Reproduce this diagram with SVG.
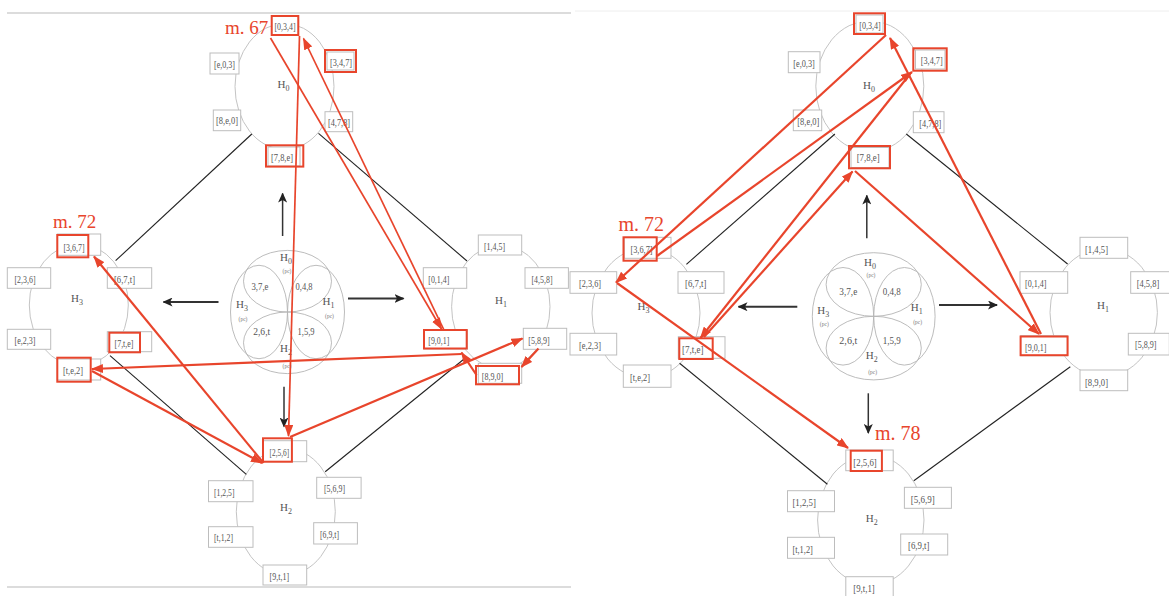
<svg xmlns="http://www.w3.org/2000/svg" width="1169" height="596" viewBox="0 0 1169 596">
<defs>
<marker id="rh" markerUnits="userSpaceOnUse" markerWidth="12" markerHeight="9" refX="11" refY="4.5" orient="auto"><path d="M0,0 L12,4.5 L0,9 z" fill="#e8452c"/></marker>
<marker id="bh" markerUnits="userSpaceOnUse" markerWidth="10" markerHeight="9" refX="9" refY="4.5" orient="auto"><path d="M0,0 L10,4.5 L0,9 L2.5,4.5 z" fill="#222"/></marker>
<style>
.bx{fill:#fff;stroke:#bdbdbd;stroke-width:1}
.rb{fill:none;stroke:#e8452c;stroke-width:2}
.lb{font-family:"Liberation Serif",serif;font-size:11px;fill:#555}
.hl{font-family:"Liberation Serif",serif;font-size:11px;fill:#555;text-anchor:middle}
.pc{font-family:"Liberation Serif",serif;font-size:5.5px;fill:#777;text-anchor:middle}
.el{fill:none;stroke:#c4c4c4;stroke-width:1}
.vn{fill:none;stroke:#b4b4b4;stroke-width:0.9}
.bk{stroke:#222;stroke-width:1.1;fill:none}
.ar{stroke:#333;stroke-width:2;fill:none;marker-end:url(#bh)}
.rl{stroke:#e8452c;stroke-width:2.2;fill:none;marker-end:url(#rh)}
.rt{stroke:#e8452c;stroke-width:1.7;fill:none;marker-end:url(#rh)}
.mt{font-family:"Liberation Serif",serif;font-size:19px;fill:#e8452c}
.fr{stroke:#dcdcdc;stroke-width:2;fill:none}
</style>
</defs>
<rect x="0" y="0" width="1169" height="596" fill="#fff"/>
<g id="frames">
<line class="fr" x1="7" y1="13" x2="571" y2="13"/>
<line class="fr" x1="7" y1="587" x2="571" y2="587"/>
<line x1="575" y1="11" x2="1169" y2="11" stroke="#eeeeee" stroke-width="1"/>
</g>

<!-- LEFT PANEL -->
<g id="L-H0">
<ellipse class="el" cx="284.5" cy="86.5" rx="49.5" ry="63"/>
<rect class="bx" x="271.7" y="16" width="26.6" height="19"/><text class="lb" x="274.5" y="30" textLength="21" lengthAdjust="spacingAndGlyphs">[0,3,4]</text>
<rect class="bx" x="210" y="53" width="29" height="21"/><text class="lb" x="214" y="67.5" textLength="21" lengthAdjust="spacingAndGlyphs">[e,0,3]</text>
<rect class="bx" x="327" y="52" width="27" height="18"/><text class="lb" x="330" y="65.5" textLength="22" lengthAdjust="spacingAndGlyphs">[3,4,7]</text>
<text class="lb" x="277.5" y="88">H<tspan font-size="8" dy="3">0</tspan></text>
<rect class="bx" x="213.3" y="110" width="27.4" height="20.7"/><text class="lb" x="216" y="124" textLength="22" lengthAdjust="spacingAndGlyphs">[8,e,0]</text>
<rect class="bx" x="325" y="111.7" width="27.7" height="20"/><text class="lb" x="328" y="125.5" textLength="22" lengthAdjust="spacingAndGlyphs">[4,7,8]</text>
<rect class="bx" x="268" y="147" width="32" height="19"/><text class="lb" x="271" y="160.5" textLength="22" lengthAdjust="spacingAndGlyphs">[7,8,e]</text>
<rect class="rb" x="271.7" y="16" width="26.6" height="19"/>
<rect class="rb" x="325" y="50" width="31" height="22"/>
<rect class="rb" x="266" y="145.3" width="37.3" height="21.3"/>
</g>
<g id="L-H3">
<ellipse class="el" cx="78.8" cy="305" rx="49.5" ry="61"/>
<rect class="bx" x="57.3" y="234" width="43.4" height="21.3"/><text class="lb" x="63.5" y="251" textLength="21" lengthAdjust="spacingAndGlyphs">[3,6,7]</text>
<rect class="bx" x="7.3" y="267.7" width="43.4" height="20.6"/><text class="lb" x="14.5" y="283" textLength="21" lengthAdjust="spacingAndGlyphs">[2,3,6]</text>
<rect class="bx" x="107.3" y="267.7" width="44.4" height="20.6"/><text class="lb" x="114" y="283" textLength="21" lengthAdjust="spacingAndGlyphs">[6,7,t]</text>
<text class="lb" x="71" y="302">H<tspan font-size="8" dy="3">3</tspan></text>
<rect class="bx" x="7.3" y="329.3" width="43.4" height="20"/><text class="lb" x="14.5" y="344" textLength="21" lengthAdjust="spacingAndGlyphs">[e,2,3]</text>
<rect class="bx" x="107.3" y="331.7" width="44.4" height="20"/><text class="lb" x="114.5" y="346.5" textLength="19" lengthAdjust="spacingAndGlyphs">[7,t,e]</text>
<rect class="bx" x="57.3" y="359" width="43.4" height="21"/><text class="lb" x="63" y="374" textLength="20" lengthAdjust="spacingAndGlyphs">[t,e,2]</text>
<rect class="rb" x="57.3" y="235" width="31" height="22.3"/>
<rect class="rb" x="109.3" y="332.7" width="30.7" height="19.6"/>
<rect class="rb" x="57.3" y="357.7" width="33.4" height="24"/>
</g>
<g id="L-H1">
<ellipse class="el" cx="500.8" cy="306.7" rx="49.2" ry="61.7"/>
<rect class="bx" x="478.3" y="235" width="43.4" height="20"/><text class="lb" x="484" y="249.5" textLength="21" lengthAdjust="spacingAndGlyphs">[1,4,5]</text>
<rect class="bx" x="423.3" y="267.7" width="43.4" height="20.6"/><text class="lb" x="428.3" y="283" textLength="21" lengthAdjust="spacingAndGlyphs">[0,1,4]</text>
<rect class="bx" x="525" y="267.7" width="43.4" height="20.6"/><text class="lb" x="531.5" y="283" textLength="21" lengthAdjust="spacingAndGlyphs">[4,5,8]</text>
<text class="lb" x="495" y="304">H<tspan font-size="8" dy="3">1</tspan></text>
<rect class="bx" x="424" y="330" width="43.4" height="19"/><text class="lb" x="428.3" y="344" textLength="21" lengthAdjust="spacingAndGlyphs">[9,0,1]</text>
<rect class="bx" x="523.3" y="328.3" width="43.4" height="21"/><text class="lb" x="528.3" y="343.5" textLength="21.5" lengthAdjust="spacingAndGlyphs">[5,8,9]</text>
<rect class="bx" x="478.3" y="363.3" width="43.4" height="20"/><text class="lb" x="481.7" y="380" textLength="21.5" lengthAdjust="spacingAndGlyphs">[8,9,0]</text>
<rect class="rb" x="424" y="330" width="42.7" height="18.5"/>
<rect class="rb" x="476" y="366" width="43" height="18.3"/>
</g>
<g id="L-H2">
<ellipse class="el" cx="285.8" cy="511.7" rx="49.5" ry="63.3"/>
<rect class="bx" x="263" y="440.7" width="43.7" height="21"/><text class="lb" x="269.6" y="456" textLength="19.5" lengthAdjust="spacingAndGlyphs">[2,5,6]</text>
<rect class="bx" x="208.5" y="480.7" width="44.5" height="21"/><text class="lb" x="214" y="495.5" textLength="20.5" lengthAdjust="spacingAndGlyphs">[1,2,5]</text>
<rect class="bx" x="316.7" y="477.3" width="44.4" height="21"/><text class="lb" x="324" y="492" textLength="21" lengthAdjust="spacingAndGlyphs">[5,6,9]</text>
<text class="lb" x="280" y="511">H<tspan font-size="8" dy="3">2</tspan></text>
<rect class="bx" x="208.5" y="526.7" width="44.5" height="20.6"/><text class="lb" x="214" y="541" textLength="19" lengthAdjust="spacingAndGlyphs">[t,1,2]</text>
<rect class="bx" x="313.7" y="522.7" width="43.7" height="21.3"/><text class="lb" x="320" y="537.5" textLength="19" lengthAdjust="spacingAndGlyphs">[6,9,t]</text>
<rect class="bx" x="263" y="565" width="43.7" height="20"/><text class="lb" x="269.6" y="579.5" textLength="19.5" lengthAdjust="spacingAndGlyphs">[9,t,1]</text>
<rect class="rb" x="263" y="438.3" width="28.9" height="23.4"/>
</g>
<g id="L-venn">
<ellipse class="vn" cx="287.5" cy="281.2" rx="44" ry="30.8"/>
<ellipse class="vn" cx="287.5" cy="342.8" rx="44" ry="30.8"/>
<ellipse class="vn" cx="259" cy="312" rx="28.5" ry="46.7"/>
<ellipse class="vn" cx="316" cy="312" rx="28.5" ry="46.7"/>
<text class="hl" x="286" y="261">H<tspan font-size="8" dy="3">0</tspan></text><text class="pc" x="287" y="273">(pc)</text>
<text class="hl" x="260" y="290" textLength="17" lengthAdjust="spacingAndGlyphs">3,7,e</text>
<text class="hl" x="304" y="290" textLength="17" lengthAdjust="spacingAndGlyphs">0,4,8</text>
<text class="hl" x="242" y="308">H<tspan font-size="8" dy="3">3</tspan></text><text class="pc" x="243" y="321">(pc)</text>
<text class="hl" x="328.5" y="305">H<tspan font-size="8" dy="3">1</tspan></text><text class="pc" x="329.5" y="318">(pc)</text>
<text class="hl" x="261.7" y="335" textLength="17" lengthAdjust="spacingAndGlyphs">2,6,t</text>
<text class="hl" x="306" y="335" textLength="17" lengthAdjust="spacingAndGlyphs">1,5,9</text>
<text class="hl" x="286" y="352">H<tspan font-size="8" dy="3">2</tspan></text><text class="pc" x="287" y="368">(pc)</text>
</g>

<!-- RIGHT PANEL -->
<g id="R-H0">
<ellipse class="el" cx="869.8" cy="86.2" rx="54" ry="65.5"/>
<rect class="bx" x="856" y="15" width="27" height="18"/><text class="lb" x="859.3" y="28.5" textLength="21.5" lengthAdjust="spacingAndGlyphs">[0,3,4]</text>
<rect class="bx" x="788.3" y="51.7" width="31.7" height="21"/><text class="lb" x="793.3" y="67" textLength="21.5" lengthAdjust="spacingAndGlyphs">[e,0,3]</text>
<rect class="bx" x="915.5" y="50" width="29.5" height="19"/><text class="lb" x="920.7" y="64" textLength="22" lengthAdjust="spacingAndGlyphs">[3,4,7]</text>
<text class="lb" x="863" y="88.5">H<tspan font-size="8" dy="3">0</tspan></text>
<rect class="bx" x="793.3" y="110" width="28.4" height="20.7"/><text class="lb" x="797.3" y="125" textLength="22" lengthAdjust="spacingAndGlyphs">[8,e,0]</text>
<rect class="bx" x="913.3" y="111.7" width="30.7" height="21"/><text class="lb" x="919.3" y="127" textLength="22" lengthAdjust="spacingAndGlyphs">[4,7,8]</text>
<rect class="bx" x="851" y="147.5" width="38" height="20"/><text class="lb" x="856.7" y="161" textLength="23" lengthAdjust="spacingAndGlyphs">[7,8,e]</text>
<rect class="rb" x="854" y="13.3" width="31" height="20.7"/>
<rect class="rb" x="913.3" y="48.3" width="33.4" height="22.4"/>
<rect class="rb" x="849" y="146" width="41" height="22.3"/>
</g>
<g id="R-H3">
<ellipse class="el" cx="646" cy="313" rx="54" ry="65"/>
<rect class="bx" x="624.3" y="237.3" width="46.7" height="21"/><text class="lb" x="630.5" y="253" textLength="22" lengthAdjust="spacingAndGlyphs">[3,6,7]</text>
<rect class="bx" x="570" y="271.7" width="46.7" height="21.6"/><text class="lb" x="579" y="287" textLength="22" lengthAdjust="spacingAndGlyphs">[2,3,6]</text>
<rect class="bx" x="678" y="271.7" width="46" height="21.6"/><text class="lb" x="685" y="287" textLength="21.5" lengthAdjust="spacingAndGlyphs">[6,7,t]</text>
<text class="lb" x="637.5" y="310">H<tspan font-size="8" dy="3">3</tspan></text>
<rect class="bx" x="570" y="333.3" width="46.7" height="21.7"/><text class="lb" x="579" y="348.5" textLength="22" lengthAdjust="spacingAndGlyphs">[e,2,3]</text>
<rect class="bx" x="678.3" y="336.7" width="46.7" height="21.6"/><text class="lb" x="682" y="352.5" textLength="21.5" lengthAdjust="spacingAndGlyphs">[7,t,e]</text>
<rect class="bx" x="623.3" y="365" width="47.7" height="22.3"/><text class="lb" x="630" y="380.5" textLength="20" lengthAdjust="spacingAndGlyphs">[t,e,2]</text>
<rect class="rb" x="623.5" y="237.3" width="33.2" height="23.4"/>
<rect class="rb" x="679.3" y="338.3" width="33.4" height="20.7"/>
</g>
<g id="R-H1">
<ellipse class="el" cx="1103.7" cy="312.5" rx="53.7" ry="64"/>
<rect class="bx" x="1080" y="237.3" width="47.7" height="21"/><text class="lb" x="1085" y="252.5" textLength="23" lengthAdjust="spacingAndGlyphs">[1,4,5]</text>
<rect class="bx" x="1020" y="271.7" width="47.7" height="21.6"/><text class="lb" x="1025" y="287" textLength="21.5" lengthAdjust="spacingAndGlyphs">[0,1,4]</text>
<rect class="bx" x="1130.7" y="271.7" width="40" height="21.6"/><text class="lb" x="1136.7" y="287" textLength="22.5" lengthAdjust="spacingAndGlyphs">[4,5,8]</text>
<text class="lb" x="1097" y="309">H<tspan font-size="8" dy="3">1</tspan></text>
<rect class="bx" x="1020.7" y="335.7" width="46.6" height="20"/><text class="lb" x="1025" y="350.5" textLength="21.5" lengthAdjust="spacingAndGlyphs">[9,0,1]</text>
<rect class="bx" x="1128.3" y="333.3" width="41" height="21.7"/><text class="lb" x="1135" y="348" textLength="21.5" lengthAdjust="spacingAndGlyphs">[5,8,9]</text>
<rect class="bx" x="1080" y="370" width="47.7" height="20.7"/><text class="lb" x="1085" y="385.5" textLength="23" lengthAdjust="spacingAndGlyphs">[8,9,0]</text>
<rect class="rb" x="1020.6" y="336.5" width="47" height="18.7"/>
</g>
<g id="R-H2">
<ellipse class="el" cx="870.8" cy="520" rx="53.2" ry="65"/>
<rect class="bx" x="845.8" y="450" width="47.4" height="20.7"/><text class="lb" x="853.3" y="465.5" textLength="23.5" lengthAdjust="spacingAndGlyphs">[2,5,6]</text>
<rect class="bx" x="787.5" y="490.7" width="47" height="21"/><text class="lb" x="792.4" y="506" textLength="23.5" lengthAdjust="spacingAndGlyphs">[1,2,5]</text>
<rect class="bx" x="904.4" y="487.3" width="47" height="21"/><text class="lb" x="910.8" y="502.5" textLength="24" lengthAdjust="spacingAndGlyphs">[5,6,9]</text>
<text class="lb" x="865.7" y="522">H<tspan font-size="8" dy="3">2</tspan></text>
<rect class="bx" x="787.5" y="537.3" width="47" height="21"/><text class="lb" x="792.4" y="552.5" textLength="20.5" lengthAdjust="spacingAndGlyphs">[t,1,2]</text>
<rect class="bx" x="900.7" y="534" width="47" height="21"/><text class="lb" x="908" y="549" textLength="21.5" lengthAdjust="spacingAndGlyphs">[6,9,t]</text>
<rect class="bx" x="845.8" y="576.7" width="47.4" height="22"/><text class="lb" x="853.3" y="592" textLength="21.5" lengthAdjust="spacingAndGlyphs">[9,t,1]</text>
<rect class="rb" x="850.7" y="450.7" width="31.2" height="20.3"/>
</g>
<g id="R-venn">
<ellipse class="vn" cx="873.7" cy="284.5" rx="47.6" ry="31.8"/>
<ellipse class="vn" cx="873.7" cy="348.1" rx="47.6" ry="31.8"/>
<ellipse class="vn" cx="843" cy="316.3" rx="30.7" ry="48.8"/>
<ellipse class="vn" cx="904.4" cy="316.3" rx="30.7" ry="48.8"/>
<text class="hl" x="870" y="266">H<tspan font-size="8" dy="3">0</tspan></text><text class="pc" x="871" y="277">(pc)</text>
<text class="hl" x="848.3" y="295" textLength="18" lengthAdjust="spacingAndGlyphs">3,7,e</text>
<text class="hl" x="891.7" y="295" textLength="18" lengthAdjust="spacingAndGlyphs">0,4,8</text>
<text class="hl" x="823.3" y="314">H<tspan font-size="8" dy="3">3</tspan></text><text class="pc" x="824.3" y="326">(pc)</text>
<text class="hl" x="916.7" y="311">H<tspan font-size="8" dy="3">1</tspan></text><text class="pc" x="917.7" y="323.5">(pc)</text>
<text class="hl" x="848.3" y="343.5" textLength="18" lengthAdjust="spacingAndGlyphs">2,6,t</text>
<text class="hl" x="891.7" y="343.5" textLength="18" lengthAdjust="spacingAndGlyphs">1,5,9</text>
<text class="hl" x="871.7" y="359">H<tspan font-size="8" dy="3">2</tspan></text><text class="pc" x="872.7" y="374">(pc)</text>
</g>

<g id="connectors">
<!-- black structure lines -->
<line class="bk" x1="251.8" y1="134" x2="115.6" y2="260.7"/>
<line class="bk" x1="318.5" y1="133.3" x2="467" y2="261"/>
<line class="bk" x1="110" y1="355.7" x2="246.3" y2="474.3"/>
<line class="bk" x1="465" y1="358.3" x2="325.2" y2="471.7"/>
<line class="ar" x1="282.6" y1="236" x2="282.6" y2="193.5" style="stroke-width:1.5"/>
<line class="ar" x1="218.5" y1="302" x2="163.5" y2="302"/>
<line class="ar" x1="348" y1="298.5" x2="403.5" y2="298.5"/>
<line class="ar" x1="284" y1="386.7" x2="284" y2="426.5" style="stroke-width:1.5"/>
<line class="bk" x1="834.9" y1="134" x2="686.4" y2="264.3"/>
<line class="bk" x1="906.3" y1="134" x2="1067.6" y2="264"/>
<line class="bk" x1="679.6" y1="363.3" x2="827.4" y2="484.3"/>
<line class="bk" x1="1070.3" y1="366.7" x2="913.8" y2="480.7"/>
<line class="ar" x1="866.8" y1="238.3" x2="866.8" y2="195.5" style="stroke-width:1.5"/>
<line class="ar" x1="797.3" y1="306.7" x2="738.5" y2="306.7"/>
<line class="ar" x1="939" y1="305" x2="997" y2="305"/>
<line class="ar" x1="868.3" y1="393.3" x2="868.3" y2="433" style="stroke-width:1.5"/>
<!-- red progressions, left panel -->
<line class="rt" x1="270.5" y1="38" x2="441.5" y2="329"/>
<line class="rt" x1="444" y1="330" x2="303.5" y2="38.5"/>
<line class="rt" x1="299.5" y1="36" x2="288.5" y2="436"/>
<line class="rl" x1="290" y1="437" x2="522.5" y2="338.5"/>
<line class="rl" x1="538.5" y1="348.5" x2="521.5" y2="367"/>
<line class="rl" x1="476.5" y1="375" x2="461.5" y2="352.5"/>
<line class="rl" x1="461.5" y1="354" x2="92" y2="369"/>
<line class="rl" x1="92" y1="371" x2="262" y2="463"/>
<line class="rl" x1="263.5" y1="463" x2="94" y2="256.5"/>
<!-- red progressions, right panel -->
<line class="rl" x1="657" y1="256" x2="912" y2="72"/>
<line class="rl" x1="910" y1="74" x2="700.5" y2="338"/>
<line class="rl" x1="704" y1="337" x2="852.5" y2="171.5"/>
<line class="rl" x1="855" y1="171" x2="1039" y2="334"/>
<line class="rl" x1="1041" y1="334" x2="890" y2="38"/>
<line class="rl" x1="886" y1="35" x2="616" y2="282.5"/>
<line class="rl" x1="617" y1="283" x2="848" y2="448"/>
</g>
<g id="measure-labels">
<text class="mt" x="225" y="34">m. 67</text>
<text class="mt" x="53" y="228.3">m. 72</text>
<text class="mt" x="618.5" y="230.5" style="font-size:20px">m. 72</text>
<text class="mt" x="875" y="440" style="font-size:20px">m. 78</text>
</g>
</svg>
